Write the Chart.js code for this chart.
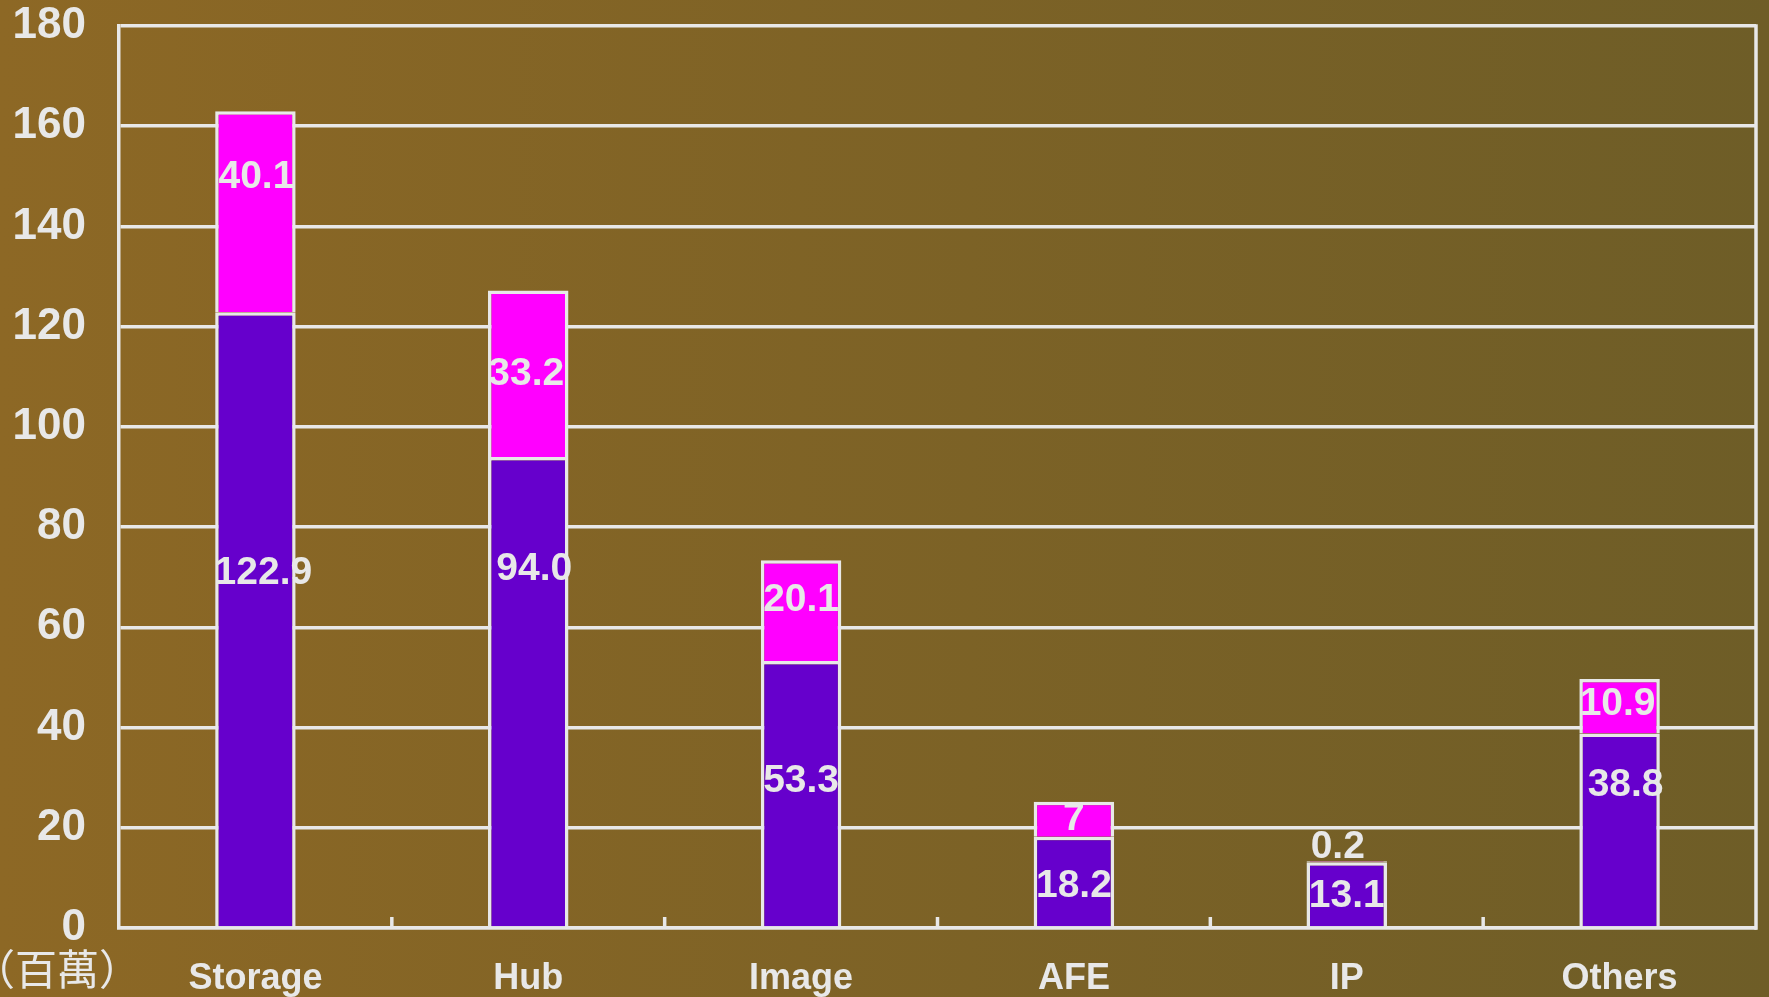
<!DOCTYPE html>
<html>
<head>
<meta charset="utf-8">
<script src="https://cdn.jsdelivr.net/npm/chart.js@4"></script>
<style>
  html, body { margin: 0; padding: 0; overflow: hidden; background: #7d6326; }
  #wrap { width: 1769px; height: 997px; position: relative; }
</style>
</head>
<body>
<div id="wrap"><canvas id="myChart"></canvas></div>
<script>
// data (millions)
const categories = ['Storage', 'Hub', 'Image', 'AFE', 'IP', 'Others'];
const lowerValues = [122.9, 94.0, 53.3, 18.2, 13.1, 38.8];
const upperValues = [40.1, 33.2, 20.1, 7, 0.2, 10.9];
const lowerLabels = ['122.9', '94.0', '53.3', '18.2', '13.1', '38.8'];
const upperLabels = ['40.1', '33.2', '20.1', '7', '0.2', '10.9'];
const yTicks = [0, 20, 40, 60, 80, 100, 120, 140, 160, 180];
const unitLabel = '（百萬）';

const WHITE = '#e8e8e8';
const FONT = "'Liberation Sans', Arial, sans-serif";

// label nudges in px, [dx, dy]
const lowerNudge = [[8, -46], [6, -122], [0, -12], [0, 5], [0, 2], [6, -45]];
const upperNudge = [[1, -34], [-2, 0], [0, -10], [0, 0], [-9, 6], [-2, -2]];

const backgroundPlugin = {
    id: 'bg',
    beforeDraw(chart) {
        const ctx = chart.ctx;
        const g = ctx.createLinearGradient(0, 0, chart.width, 0);
        g.addColorStop(0, '#8d6825');
        g.addColorStop(1, '#6e5d27');
        ctx.save();
        ctx.fillStyle = g;
        ctx.fillRect(0, 0, chart.width, chart.height);
        ctx.restore();
    }
};

const framePlugin = {
    id: 'frame',
    afterDatasetsDraw(chart) {
        const ctx = chart.ctx;
        const a = chart.chartArea;
        const x = chart.scales.x;
        ctx.save();
        ctx.strokeStyle = WHITE;
        ctx.lineWidth = 3.5;
        // right border
        ctx.beginPath();
        ctx.moveTo(a.right, a.top - 1.75);
        ctx.lineTo(a.right, a.bottom + 1.75);
        ctx.stroke();
        // small ticks between categories
        for (let i = 1; i < categories.length; i++) {
            const px = (x.getPixelForValue(i - 1) + x.getPixelForValue(i)) / 2;
            ctx.beginPath();
            ctx.moveTo(px, a.bottom);
            ctx.lineTo(px, a.bottom - 11);
            ctx.stroke();
        }
        // unit label
        ctx.fillStyle = WHITE;
        ctx.font = "42px 'Noto Sans CJK TC', 'Noto Sans CJK SC', sans-serif";
        ctx.textAlign = 'left';
        ctx.textBaseline = 'middle';
        ctx.fillText(unitLabel, -27, 969);
        ctx.restore();
    }
};

const valueLabelPlugin = {
    id: 'valueLabels',
    afterDatasetsDraw(chart) {
        const ctx = chart.ctx;
        ctx.save();
        ctx.fillStyle = WHITE;
        ctx.font = 'bold 39px ' + FONT;
        ctx.textAlign = 'center';
        ctx.textBaseline = 'middle';
        const sets = [
            { meta: chart.getDatasetMeta(0), labels: lowerLabels, nudge: lowerNudge },
            { meta: chart.getDatasetMeta(1), labels: upperLabels, nudge: upperNudge }
        ];
        sets.forEach((s, di) => {
            s.meta.data.forEach((bar, i) => {
                let cy = (bar.y + bar.base) / 2;
                // tiny segment: put its label above the bar
                if (di === 1 && Math.abs(bar.base - bar.y) < 20) {
                    cy = bar.y - 20;
                }
                ctx.fillText(s.labels[i], bar.x + s.nudge[i][0], cy + s.nudge[i][1]);
            });
        });
        ctx.restore();
    }
};

const ctx = document.getElementById('myChart').getContext('2d');
const myChart = new Chart(ctx, {
    type: 'bar',
    data: {
        labels: categories,
        datasets: [{
            data: lowerValues,
            backgroundColor: '#6600cc',
            borderColor: WHITE,
            borderWidth: 3.5,
            categoryPercentage: 1,
            barPercentage: 0.295
        }, {
            data: upperValues,
            backgroundColor: '#ff00ff',
            borderColor: WHITE,
            borderWidth: 3.5,
            categoryPercentage: 1,
            barPercentage: 0.295
        }]
    },
    options: {
        responsive: true,
        maintainAspectRatio: false,
        animation: false,
        layout: { padding: { top: 0, right: 13, bottom: 0, left: 0 } },
        plugins: {
            legend: { display: false },
            tooltip: { enabled: false }
        },
        scales: {
            x: {
                stacked: true,
                grid: { display: false, drawTicks: false },
                border: { color: WHITE, width: 3.5 },
                ticks: {
                    color: WHITE,
                    padding: 29,
                    font: { family: FONT, size: 36, weight: 'bold' }
                },
                afterFit(scale) { scale.height = 69; }
            },
            y: {
                stacked: true,
                min: 0,
                max: 180,
                afterBuildTicks(scale) { scale.ticks = yTicks.map(v => ({ value: v })); },
                grid: { color: WHITE, lineWidth: 3.5, drawTicks: false },
                border: { color: WHITE, width: 3.5 },
                ticks: {
                    color: WHITE,
                    padding: 33,
                    font: { family: FONT, size: 44, weight: 'bold' }
                },
                afterFit(scale) {
                    scale.width = 119;
                    scale.paddingTop = 26;
                    scale.paddingBottom = 0;
                }
            }
        }
    },
    plugins: [backgroundPlugin, framePlugin, valueLabelPlugin]
});
</script>
</body>
</html>
